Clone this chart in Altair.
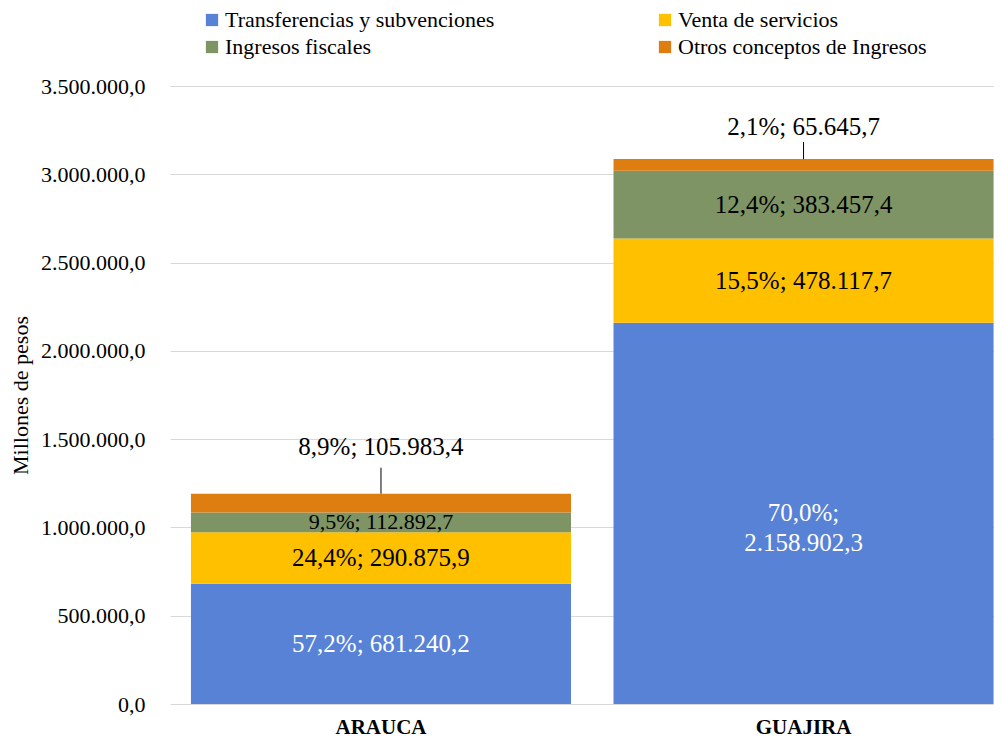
import altair as alt
import pandas as pd

categories = ["ARAUCA", "GUAJIRA"]
series = ["Transferencias y subvenciones", "Venta de servicios",
          "Ingresos fiscales", "Otros conceptos de Ingresos"]
arauca = [681240.2, 290875.9, 112892.7, 105983.4]
guajira = [2158902.3, 478117.7, 383457.4, 65645.7]
colors = ["#5882D6", "#FFC000", "#7E9464", "#DF7E10"]
y_ticks = [0, 500000, 1000000, 1500000, 2000000, 2500000, 3000000, 3500000]

FONT = "Liberation Serif"


def fmt_num(v):
    s = f"{v:,.1f}"
    return s.replace(",", "#").replace(".", ",").replace("#", ".")


rows = []
for cat, vals in zip(categories, [arauca, guajira]):
    total = sum(vals)
    for i, (s, v) in enumerate(zip(series, vals)):
        pct = f"{v / total * 100:.1f}".replace(".", ",") + "%"
        sep = ";\n" if (cat == "GUAJIRA" and i == 0) else "; "
        rows.append(dict(cat=cat, serie=s, idx=i, value=v, label=pct + sep + fmt_num(v)))
df = pd.DataFrame(rows)

x_enc = alt.X(
    "cat:N", sort=categories,
    scale=alt.Scale(paddingInner=0.1006, paddingOuter=0.0253, align=0.98),
    axis=alt.Axis(title=None, labelAngle=0, labelFont=FONT, labelFontWeight="bold",
                  labelFontSize=21, labelColor="black", ticks=False, domain=False,
                  labelPadding=12),
)

y_axis = alt.Axis(values=y_ticks,
                  labelExpr="replace(format(datum.value, ',.0f'), regexp(',', 'g'), '.') + ',0'",
                  title="Millones  de pesos", titleFont=FONT, titleFontSize=22,
                  titleFontWeight="normal", titleColor="black",
                  titleX=-150, titleY=309, titleAngle=270, titleBaseline="middle",
                  labelFont=FONT, labelFontSize=22, labelColor="black",
                  labelPadding=25, ticks=False, domain=False,
                  gridColor="#D9D9D9", gridWidth=1)
y_scale = alt.Scale(domain=[0, 3500000])

base = alt.Chart(df)

bars = base.mark_bar().encode(
    x=x_enc,
    y=alt.Y("value:Q", stack="zero", scale=y_scale, axis=y_axis),
    color=alt.Color("serie:N", scale=alt.Scale(domain=series, range=colors),
                    legend=alt.Legend(orient="none", legendX=31, legendY=-77, columns=2,
                                      direction="horizontal",
                                      title=None, symbolType="square", symbolSize=150,
                                      symbolStrokeWidth=0, labelFont=FONT, labelFontSize=22,
                                      labelColor="black", labelLimit=0, columnPadding=159,
                                      rowPadding=5, labelOffset=2, padding=0)),
    order=alt.Order("idx:Q", sort="ascending"),
)

stacked = base.transform_stack(
    stack="value", groupby=["cat"], as_=["y0", "y1"],
    sort=[alt.SortField("idx", order="ascending")],
).transform_calculate(mid="(datum.y0 + datum.y1) / 2")

mid_text = stacked.transform_filter("datum.idx < 3").mark_text(
    font=FONT, lineBreak="\n", lineHeight=30, baseline="middle", align="center"
).encode(
    x=alt.X("cat:N", sort=categories),
    y=alt.Y("mid:Q", scale=y_scale, axis=y_axis),
    text="label:N",
    color=alt.condition("datum.idx == 0", alt.value("white"), alt.value("black")),
    size=alt.condition("datum.cat == 'ARAUCA' && datum.idx == 2", alt.value(22), alt.value(25)),
)

layers = [bars, mid_text]
for cat, dy, rl in [("ARAUCA", -47, 26), ("GUAJIRA", -32, 17)]:
    top = stacked.transform_filter(f"datum.idx == 3 && datum.cat == '{cat}'")
    layers.append(top.mark_text(font=FONT, fontSize=25, dy=dy, color="black",
                                baseline="middle").encode(
        x=alt.X("cat:N", sort=categories), y=alt.Y("y1:Q", scale=y_scale, axis=y_axis),
        text="label:N"))
    layers.append(top.mark_rule(color="black", strokeWidth=1, y2Offset=-rl).encode(
        x=alt.X("cat:N", sort=categories), y=alt.Y("y1:Q", scale=y_scale, axis=y_axis),
        y2="y1:Q"))

chart = alt.layer(*layers).properties(
    width=824, height=618, autosize="none",
    padding={"left": 162, "top": 78, "right": 0, "bottom": 34},
).configure(font=FONT).configure_view(stroke=None)

chart.save("out.html", embed_options={"renderer": "svg", "actions": False})
